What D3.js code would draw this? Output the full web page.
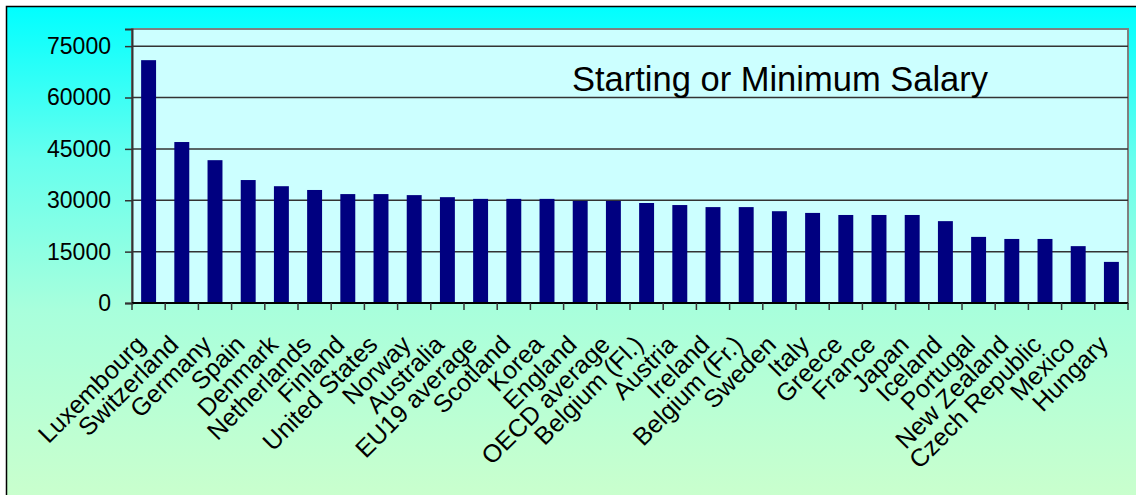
<!DOCTYPE html>
<html lang="en">
<head>
<meta charset="UTF-8">
<title>Starting or Minimum Salary</title>
<style>
  body { margin: 0; background: #fff; }
  svg text { font-family: "Liberation Sans", Arial, sans-serif; fill: #000; }
  .grid line { stroke: #333; stroke-width: 1.5px; }
</style>
</head>
<body>
<script src="https://d3js.org/d3.v7.min.js"></script>
<script>
const countries = ['Luxembourg', 'Switzerland', 'Germany', 'Spain', 'Denmark', 'Netherlands',
  'Finland', 'United States', 'Norway', 'Australia', 'EU19 average', 'Scotland', 'Korea',
  'England', 'OECD average', 'Belgium (Fl.)', 'Austria', 'Ireland', 'Belgium (Fr.)', 'Sweden',
  'Italy', 'Greece', 'France', 'Japan', 'Iceland', 'Portugal', 'New Zealand', 'Czech Republic',
  'Mexico', 'Hungary'];

const salary = [70900, 47000, 41700, 35900, 34100, 33000, 31800, 31800, 31500, 30900,
  30400, 30400, 30400, 29800, 29800, 29200, 28600, 28000, 28000, 26800,
  26300, 25700, 25700, 25700, 23900, 19300, 18700, 18700, 16600, 12000];

const yTicks = [0, 15000, 30000, 45000, 60000, 75000];
const title = 'Starting or Minimum Salary';

const W = 1136, H = 495;
const plot = { left: 132, top: 29, right: 1128, bottom: 303 };

const svg = d3.select('body').append('svg')
  .attr('width', W)
  .attr('height', H);

const defs = svg.append('defs');
const grad = defs.append('linearGradient')
  .attr('id', 'bg')
  .attr('x1', 0).attr('y1', 0).attr('x2', 0).attr('y2', 1);
grad.append('stop').attr('offset', '0').attr('stop-color', '#00ffff');
grad.append('stop').attr('offset', '0.3').attr('stop-color', '#66ffee');
grad.append('stop').attr('offset', '0.6').attr('stop-color', '#a8ffdc');
grad.append('stop').attr('offset', '1').attr('stop-color', '#ccffcc');

// chart area with outer frame (right and bottom edges run off the picture)
svg.append('rect')
  .attr('x', 6.5).attr('y', 6.5)
  .attr('width', W + 10).attr('height', H + 10)
  .attr('fill', 'url(#bg)')
  .attr('stroke', '#000')
  .attr('stroke-width', 1.5);

const x = d3.scaleBand()
  .domain(countries)
  .range([plot.left, plot.right])
  .paddingInner(0.55)
  .paddingOuter(0.275);

const y = d3.scaleLinear()
  .domain([0, 80000])
  .range([plot.bottom, plot.top]);

// plot area
svg.append('rect')
  .attr('x', plot.left).attr('y', plot.top)
  .attr('width', plot.right - plot.left)
  .attr('height', plot.bottom - plot.top)
  .attr('fill', '#ccffff')
  .attr('stroke', '#808080')
  .attr('stroke-width', 2);

svg.append('g')
  .attr('class', 'grid')
  .selectAll('line')
  .data(yTicks.filter(d => d > 0))
  .join('line')
  .attr('x1', plot.left).attr('x2', plot.right)
  .attr('y1', d => y(d)).attr('y2', d => y(d));

svg.append('g')
  .selectAll('rect')
  .data(salary)
  .join('rect')
  .attr('x', (d, i) => x(countries[i]))
  .attr('y', d => y(d))
  .attr('width', x.bandwidth())
  .attr('height', d => y(0) - y(d))
  .attr('fill', '#000080');

// y axis
const yAxis = svg.append('g')
  .attr('transform', `translate(${plot.left},0)`)
  .call(d3.axisLeft(y).tickValues(yTicks).tickFormat(d3.format('d')).tickSize(7).tickPadding(14));
yAxis.attr('font-size', 23).attr('font-family', null);
yAxis.select('.domain').attr('stroke', '#333').attr('stroke-width', 2);
yAxis.selectAll('.tick line').attr('stroke', '#333').attr('stroke-width', 1.5);
yAxis.selectAll('text').style('font-size', '23px');

// x axis: ticks on band edges
const step = x.step();
const edges = d3.range(countries.length + 1).map(i => plot.left + i * step);
const xAxis = svg.append('g');
xAxis.append('line')
  .attr('x1', plot.left).attr('x2', plot.right)
  .attr('y1', plot.bottom).attr('y2', plot.bottom)
  .attr('stroke', '#000').attr('stroke-width', 2);
xAxis.selectAll('.edge')
  .data(edges)
  .join('line')
  .attr('class', 'edge')
  .attr('x1', d => d).attr('x2', d => d)
  .attr('y1', plot.bottom).attr('y2', plot.bottom + 7)
  .attr('stroke', '#333').attr('stroke-width', 1.5);

xAxis.selectAll('text')
  .data(countries)
  .join('text')
  .attr('transform', d => `translate(${x(d) + x.bandwidth() / 2 - 8},${plot.bottom + 37}) rotate(-45)`)
  .attr('text-anchor', 'end')
  .attr('dy', '0.35em')
  .style('font-size', '25px')
  .text(d => d);

svg.append('text')
  .attr('x', 780)
  .attr('y', 91)
  .attr('text-anchor', 'middle')
  .style('font-size', '34.5px')
  .text(title);
</script>
</body>
</html>
